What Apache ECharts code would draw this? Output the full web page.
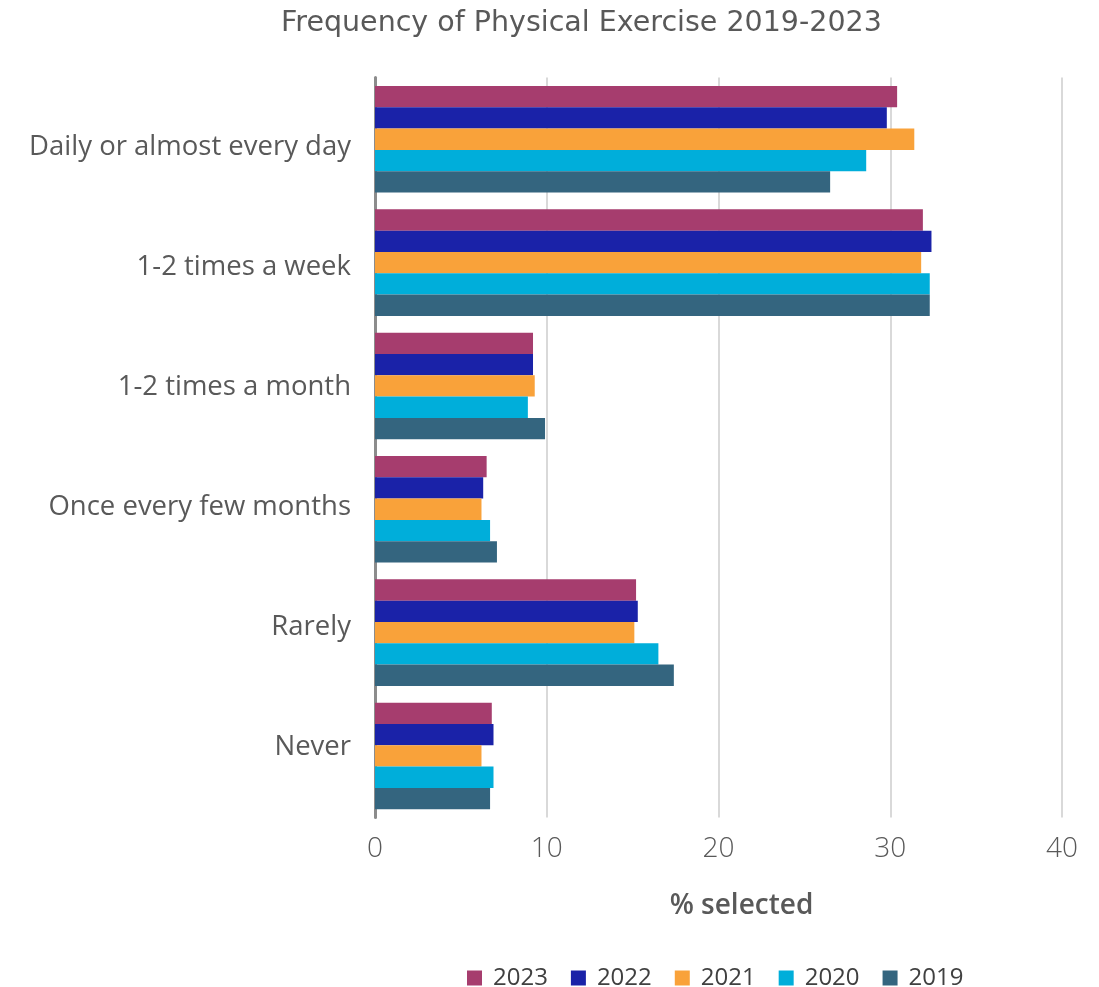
<!DOCTYPE html>
<html>
<head>
<meta charset="utf-8">
<script src="https://cdn.jsdelivr.net/npm/echarts@6/dist/echarts.min.js"></script>
<style>
html,body{margin:0;padding:0;background:#fff;}
#chart{width:1099px;height:987px;}
</style>
</head>
<body>
<div id="chart"></div>
<script>
const categories = ['Daily or almost every day', '1-2 times a week', '1-2 times a month', 'Once every few months', 'Rarely', 'Never'];
const seriesNames = ['2023', '2022', '2021', '2020', '2019'];
const values2023 = [30.4, 31.9, 9.2, 6.5, 15.2, 6.8];
const values2022 = [29.8, 32.4, 9.2, 6.3, 15.3, 6.9];
const values2021 = [31.4, 31.8, 9.3, 6.2, 15.1, 6.2];
const values2020 = [28.6, 32.3, 8.9, 6.7, 16.5, 6.9];
const values2019 = [26.5, 32.3, 9.9, 7.1, 17.4, 6.7];
const xTicks = [0, 10, 20, 30, 40];
const colors = ['#A63D6E', '#1A22A8', '#F9A23A', '#00AEDA', '#34657F'];

const allValues = [values2023, values2022, values2021, values2020, values2019];

const chart = echarts.init(document.getElementById('chart'), null, {renderer: 'canvas'});
chart.setOption({
  animation: false,
  backgroundColor: '#ffffff',
  title: {
    text: 'Frequency of Physical Exercise 2019-2023',
    left: 276,
    top: 4,
    textStyle: {fontFamily: 'DejaVu Sans', fontSize: 28.5, fontWeight: 'normal', color: '#595959'}
  },
  legend: {
    data: seriesNames,
    top: 961,
    left: 462,
    icon: 'rect',
    itemWidth: 15,
    itemHeight: 15,
    itemGap: 23,
    textStyle: {fontFamily: 'Open Sans', fontSize: 24, color: '#404040', padding: [0, 0, 0, 6]}
  },
  grid: [
    {left: 375, right: 37, top: 77.6, height: 740, containLabel: false},
    {left: 375, right: 37, top: 87, height: 720, containLabel: false}
  ],
  xAxis: [{
    type: 'value',
    gridIndex: 0,
    min: xTicks[0],
    max: xTicks[xTicks.length - 1],
    interval: 10,
    name: '% selected',
    nameLocation: 'middle',
    nameGap: 74,
    nameTextStyle: {fontFamily: 'Open Sans', fontSize: 28, fontWeight: 600, color: '#595959', padding: [0, 0, 0, 46]},
    axisLine: {show: false},
    axisTick: {show: false},
    axisLabel: {fontFamily: 'Open Sans', fontSize: 28, fontWeight: 300, color: '#595959', margin: 17},
    splitLine: {show: true, lineStyle: {color: '#D9D9D9', width: 2}}
  }, {
    type: 'value',
    gridIndex: 1,
    min: xTicks[0],
    max: xTicks[xTicks.length - 1],
    show: false
  }],
  yAxis: [{
    type: 'category',
    gridIndex: 0,
    data: categories,
    inverse: true,
    axisLine: {show: true, lineStyle: {color: '#8C8C8C', width: 3}},
    axisTick: {show: false},
    axisLabel: {show: false}
  }, {
    type: 'category',
    gridIndex: 1,
    data: categories,
    inverse: true,
    axisLine: {show: false},
    axisTick: {show: false},
    splitLine: {show: false},
    axisLabel: {fontFamily: 'Open Sans', fontSize: 27.5, fontWeight: 'normal', color: '#595959', margin: 24}
  }],
  series: seriesNames.map((name, i) => ({
    name: name,
    type: 'bar',
    xAxisIndex: 0,
    yAxisIndex: 0,
    data: allValues[i],
    barGap: '0%',
    barCategoryGap: '13.6%',
    itemStyle: {color: colors[i]}
  }))
});
</script>
</body>
</html>
